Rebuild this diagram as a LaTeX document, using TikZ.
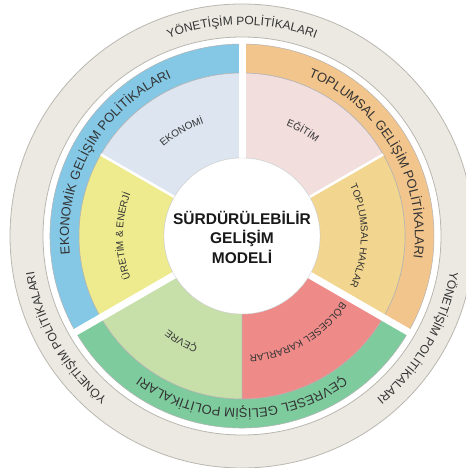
\documentclass[tikz,border=0pt]{standalone}
\usepackage{fontspec}
\setmainfont{Liberation Sans}
\usepackage{tikz}
\usetikzlibrary{decorations.text}

\definecolor{govfill}{HTML}{EBE9E2}
\definecolor{govline}{HTML}{B9B7AF}
\definecolor{ecoband}{HTML}{84C8E6}
\definecolor{ecofill}{HTML}{DCE5F0}
\definecolor{energyfill}{HTML}{EDEB8E}
\definecolor{envband}{HTML}{7ECC9E}
\definecolor{envfill}{HTML}{C7DFA9}
\definecolor{regionfill}{HTML}{EE8B89}
\definecolor{socband}{HTML}{F2C58C}
\definecolor{rightsfill}{HTML}{F2D58F}
\definecolor{edufill}{HTML}{F1DEDD}

\newcommand{\govfont}{\fontsize{12}{12}\selectfont}
\newcommand{\bandfont}{\fontsize{13}{13}\selectfont}
\newcommand{\secfont}{\fontsize{10}{10}\selectfont}

\begin{document}
\begin{tikzpicture}[
	piece/.style={draw=black!30,line width=0.5pt},
	main gap/.style={draw=white,line width=7pt},
	sub gap/.style={draw=white,line width=2.5pt},
	arc text/.style={decorate,decoration={text along path,text align=center,text color=black!80,text={#1}}}
]

	\def \rin {78pt};
	\def \rsec {163pt};
	\def \rband {192pt};
	\def \rgap {196pt};
	\def \rgi {199pt};
	\def \rgo {232pt};

	\useasboundingbox (-242pt,-232pt) rectangle (224pt,236pt);
	\clip (-242pt,-232pt) rectangle (224pt,236pt);

	% governance ring
	\fill[govfill,even odd rule] (0,0) circle (\rgo) (0,0) circle (\rgi);
	\draw[govline,line width=0.8pt] (0,0) circle (\rgo) (0,0) circle (\rgi);

	% policy bands with their two fields
	\foreach \a/\bcol/\fa/\fb in {90/ecoband/ecofill/energyfill, 210/envband/envfill/regionfill, 330/socband/rightsfill/edufill} {
		\filldraw[piece,fill=\bcol] (\a:\rsec) arc[start angle=\a,delta angle=120,radius=\rsec] -- ({\a+120}:\rband) arc[start angle=\a+120,delta angle=-120,radius=\rband] -- cycle;
		\filldraw[piece,fill=\fa] (\a:\rin) arc[start angle=\a,delta angle=60,radius=\rin] -- ({\a+60}:\rsec) arc[start angle=\a+60,delta angle=-60,radius=\rsec] -- cycle;
		\filldraw[piece,fill=\fb] ({\a+60}:\rin) arc[start angle=\a+60,delta angle=60,radius=\rin] -- ({\a+120}:\rsec) arc[start angle=\a+120,delta angle=-60,radius=\rsec] -- cycle;
	}
	\foreach \a in {90,210,330}
		\draw[main gap] (0,0) -- (\a:\rgap);
	\foreach \a in {30,150}
		\draw[sub gap] (0,0) -- (\a:\rsec);

	% center
	\filldraw[draw=black!15,fill=white] (0,0) circle (\rin);
	\node[font=\bfseries\fontsize{15.5}{19.5}\selectfont,align=center,text=black!90] (model) at (0,-1pt) {SÜRDÜRÜLEBİLİR\\GELİŞİM\\MODELİ};

	% captions, all running clockwise
	\begin{scope}
		\govfont
		\foreach \c in {90,210,330}
			\path[arc text={YÖNETİŞİM POLİTİKALARI}] ({\c+50}:211pt) arc[start angle=\c+50,delta angle=-100,radius=211pt];
	\end{scope}

	\begin{scope}
		\bandfont
		\path[arc text={EKONOMİK GELİŞİM POLİTİKALARI}] (205:173pt) arc[start angle=205,delta angle=-110,radius=173pt];
		\path[arc text={ÇEVRESEL GELİŞİM POLİTİKALARI}] (325:173pt) arc[start angle=325,delta angle=-110,radius=173pt];
		\path[arc text={TOPLUMSAL GELİŞİM POLİTİKALARI}] (85:173pt) arc[start angle=85,delta angle=-110,radius=173pt];
	\end{scope}

	\begin{scope}
		\secfont
		\path[arc text={EKONOMİ}] (150:119pt) arc[start angle=150,delta angle=-60,radius=119pt];
		\path[arc text={ÜRETİM {\&} ENERJİ}] (210:119pt) arc[start angle=210,delta angle=-60,radius=119pt];
		\path[arc text={ÇEVRE}] (270:119pt) arc[start angle=270,delta angle=-60,radius=119pt];
		\path[arc text={BÖLGESEL KARARLAR}] (330:119pt) arc[start angle=330,delta angle=-60,radius=119pt];
		\path[arc text={TOPLUMSAL HAKLAR}] (30:119pt) arc[start angle=30,delta angle=-60,radius=119pt];
		\path[arc text={EĞİTİM}] (90:119pt) arc[start angle=90,delta angle=-60,radius=119pt];
	\end{scope}
\end{tikzpicture}
\end{document}
